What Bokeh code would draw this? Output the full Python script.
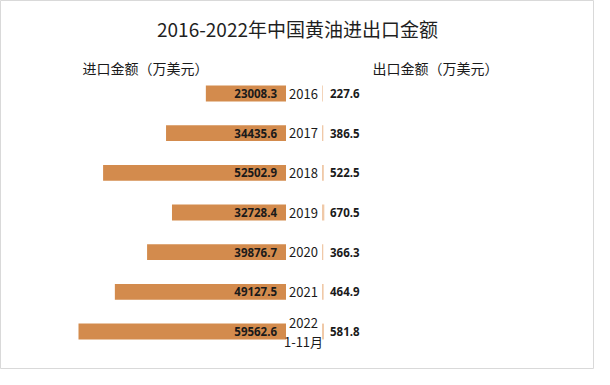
from bokeh.plotting import figure
from bokeh.models import Range1d, ColumnDataSource
from bokeh.core.properties import value
from bokeh.embed import file_html
from bokeh.resources import INLINE

# ---- data ----
years = ["2016", "2017", "2018", "2019", "2020", "2021", "2022\n1-11月"]
imports = [23008.3, 34435.6, 52502.9, 32728.4, 39876.7, 49127.5, 59562.6]
exports = [227.6, 386.5, 522.5, 670.5, 366.3, 464.9, 581.8]
title_text = "2016-2022年中国黄油进出口金额"
left_header = "进口金额（万美元）"
right_header = "出口金额（万美元）"

W, H = 594, 369
K = 287.05  # value units per pixel (shared scale of both sides)
ROW = 39.67  # pixel per row
TOP = 93.0   # pixel y of first row centre

src = ColumnDataSource(dict(
    idx=list(range(len(years))),
    year=years,
    imp=imports,
    exp=exports,
    imp_lbl=[f"{v:.1f}" for v in imports],
    exp_lbl=[f"{v:.1f}" for v in exports],
))

p = figure(width=W, height=H, output_backend="svg", toolbar_location=None,
           x_range=Range1d(0, W),
           y_range=Range1d(start=(H - TOP) / ROW, end=-TOP / ROW),
           min_border=0, min_border_left=0, min_border_right=0,
           min_border_top=0, min_border_bottom=0)
p.axis.visible = False
p.grid.visible = False
p.outline_line_color = "#D9D9D9"
p.outline_line_width = 1
p.background_fill_color = "white"
p.border_fill_color = "white"

p.extra_x_ranges = {
    "imp": Range1d(start=285.5 * K, end=-(W - 285.5) * K),
    "exp": Range1d(start=-321.5 * K, end=(W - 321.5) * K),
}
p.extra_y_ranges = {"px": Range1d(start=H, end=0)}

p.hbar(y="idx", left=0, right="imp", height=0.40, source=src,
       x_range_name="imp", fill_color="#D38B4D", line_color=None)
p.hbar(y="idx", left=0, right="exp", height=0.40, source=src,
       x_range_name="exp", fill_color="#F0C9A8", line_color=None)

num_font = value("Noto Sans")
cjk_font = value("Noto Sans CJK SC")

p.text(x=0, y="idx", text="imp_lbl", source=src, x_range_name="imp",
       x_offset=-9, text_align="right", text_baseline="middle",
       text_font=num_font, text_font_style="bold", text_font_size="11.5px",
       text_color="#1A1A1A")
p.text(x=0, y="idx", text="exp_lbl", source=src, x_range_name="exp",
       x_offset=8, text_align="left", text_baseline="middle",
       text_font=num_font, text_font_style="bold", text_font_size="11.5px",
       text_color="#1A1A1A")
p.text(x=303, y="idx", text="year", source=src,
       text_align="center", text_baseline="middle", text_line_height=1.0,
       text_font=cjk_font, text_font_size="13px", text_color="#1A1A1A")

p.text(x=[297], y=[28], text=[title_text], y_range_name="px",
       text_align="center", text_baseline="middle",
       text_font=cjk_font, text_font_size="19px", text_color="#1F1F1F")
p.text(x=[82], y=[67], text=[left_header], y_range_name="px",
       text_align="left", text_baseline="middle",
       text_font=cjk_font, text_font_size="14px", text_color="#1A1A1A")
p.text(x=[372], y=[67], text=[right_header], y_range_name="px",
       text_align="left", text_baseline="middle",
       text_font=cjk_font, text_font_size="14px", text_color="#1A1A1A")

open("out.html", "w").write(file_html(p, INLINE))
